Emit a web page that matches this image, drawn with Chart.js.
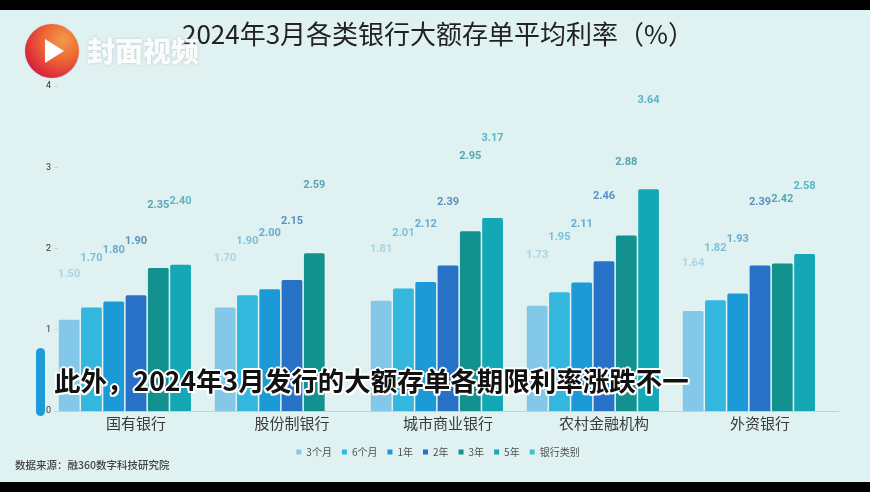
<!DOCTYPE html>
<html><head><meta charset="utf-8">
<script src="https://cdn.jsdelivr.net/npm/chart.js@4/dist/chart.umd.min.js"></script>
<style>
html,body{margin:0;padding:0;background:#000;}
#wrap{position:relative;width:870px;height:492px;overflow:hidden;background:#000;}
#panel{position:absolute;left:0;top:10px;width:870px;height:472px;background:#dff1f1;}
#c{position:absolute;left:0;top:0;}
#logo{position:absolute;left:25px;top:24px;width:54px;height:54px;border-radius:50%;
  background:radial-gradient(circle at 70% 30%,#f39a4a 0%,#ee6a35 35%,#d9253f 75%,#c81a3c 100%);
  box-shadow:0 0 2px rgba(0,0,0,0.15);}
#logo:after{content:"";position:absolute;left:20px;top:15px;width:0;height:0;
  border-top:12px solid transparent;border-bottom:12px solid transparent;border-left:19px solid #fff;}
#brand{position:absolute;left:87px;top:32px;font:900 28px "Noto Sans CJK SC",sans-serif;color:rgba(255,255,255,0.92);
  text-shadow:0 0 3px rgba(120,120,120,0.3);line-height:36px;}
#sub{position:absolute;left:54px;top:362px;font:700 26.5px "Noto Sans CJK SC",sans-serif;color:#111;line-height:36px;white-space:nowrap;
  text-shadow:2px 0 0 #fff,-2px 0 0 #fff,0 2px 0 #fff,0 -2px 0 #fff,1.5px 1.5px 0 #fff,-1.5px -1.5px 0 #fff,1.5px -1.5px 0 #fff,-1.5px 1.5px 0 #fff;}
#subbar{position:absolute;left:36px;top:348px;width:9px;height:68px;border-radius:5px;background:#1f9bd8;}
#src{position:absolute;left:15px;top:457px;font:500 10.5px "Noto Sans CJK SC",sans-serif;color:#444;line-height:16px;white-space:nowrap;}
</style>
</head><body>
<div id="wrap">
  <div id="panel"></div>
  <canvas id="c" width="870" height="492"></canvas>
  <div id="logo"></div>
  <div id="brand">封面视频</div>
  <div id="subbar"></div>
  <div id="sub">此外，2024年3月发行的大额存单各期限利率涨跌不一</div>
  <div id="src">数据来源：融360数字科技研究院</div>
</div>
<script>
const chartTitle = '2024年3月各类银行大额存单平均利率（%）';
const categories = ['国有银行','股份制银行','城市商业银行','农村金融机构','外资银行'];
const seriesNames = ['3个月','6个月','1年','2年','3年','5年','银行类别'];
const rate3m = [1.50, 1.70, 1.81, 1.73, 1.64];
const rate6m = [1.70, 1.90, 2.01, 1.95, 1.82];
const rate1y = [1.80, 2.00, 2.12, 2.11, 1.93];
const rate2y = [1.90, 2.15, 2.39, 2.46, 2.39];
const rate3y = [2.35, 2.59, 2.95, 2.88, 2.42];
const rate5y = [2.40, null, 3.17, 3.64, 2.58];
const bankType = [null, null, null, null, null];
const yTickLabels = ['0','1','2','3','4'];

const seriesData = [rate3m, rate6m, rate1y, rate2y, rate3y, rate5y, bankType];
const barColors = ['#83c8e8','#33b7de','#1b9ad7','#2772c6','#13918f','#14a7b5','#3cc2d8'];
const labelColors = ['#a8d5e6','#7cc0da','#66acd2','#5b8fc4','#58a6b0','#5db4c3','#5db4c3'];

const datasets = seriesNames.map((name, i) => ({
  label: name,
  data: seriesData[i],
  backgroundColor: barColors[i],
  borderWidth: 0,
  borderRadius: {topLeft: 1.5, topRight: 1.5, bottomLeft: 0, bottomRight: 0},
  borderSkipped: 'bottom',
  yAxisID: 'yBar',
  labelColor: labelColors[i]
}));

const valueLabels = {
  id: 'valueLabels',
  afterDatasetsDraw(chart) {
    const ctx = chart.ctx;
    const ys = chart.scales.y;
    chart.data.datasets.forEach((ds, di) => {
      const meta = chart.getDatasetMeta(di);
      meta.data.forEach((bar, i) => {
        const v = ds.data[i];
        if (v === null || v === undefined) return;
        ctx.save();
        ctx.font = 'bold 11px Roboto, "DejaVu Sans", sans-serif';
        ctx.fillStyle = ds.labelColor;
        ctx.textAlign = 'center';
        ctx.textBaseline = 'middle';
        ctx.fillText(v.toFixed(2), bar.x, ys.getPixelForValue(v) - 15);
        ctx.restore();
      });
    });
  }
};

new Chart(document.getElementById('c'), {
  type: 'bar',
  data: { labels: categories, datasets },
  plugins: [valueLabels],
  options: {
    responsive: false,
    animation: false,
    devicePixelRatio: 1,
    layout: { padding: { top: 10, left: 38, right: 32, bottom: 25 } },
    datasets: { bar: { categoryPercentage: 1.0, barPercentage: 0.93 } },
    plugins: {
      title: {
        display: true,
        text: chartTitle,
        color: '#222',
        font: { family: '"Noto Sans CJK SC", sans-serif', size: 26, weight: 'normal' },
        padding: { top: 9, bottom: 36 }
      },
      legend: {
        position: 'bottom',
        labels: {
          boxWidth: 5, boxHeight: 5, padding: 10,
          color: '#505050',
          font: { family: '"Noto Sans CJK SC", sans-serif', size: 10 }
        }
      },
      tooltip: { enabled: false }
    },
    scales: {
      x: {
        grid: { display: true, drawOnChartArea: false, drawTicks: false },
        border: { display: true, color: '#c5d2d2', width: 1 },
        ticks: { color: '#3a3a3a', padding: 3, font: { family: '"Noto Sans CJK SC", sans-serif', size: 15 } },
        afterFit(s) { s.height = 26; }
      },
      y: {
        position: 'left',
        min: 0, max: 4,
        grid: { display: true, drawOnChartArea: false, drawTicks: true, tickLength: 4, color: '#c9d6d6' },
        border: { display: false },
        ticks: {
          stepSize: 1, padding: 3, color: '#333',
          font: { family: 'Roboto, sans-serif', size: 9 },
          callback: (val, idx) => yTickLabels[idx]
        },
        afterFit(s) { s.width = 20; }
      },
      yBar: {
        display: false,
        min: 0, max: 16 / 3
      }
    }
  }
});
</script>
</body></html>
